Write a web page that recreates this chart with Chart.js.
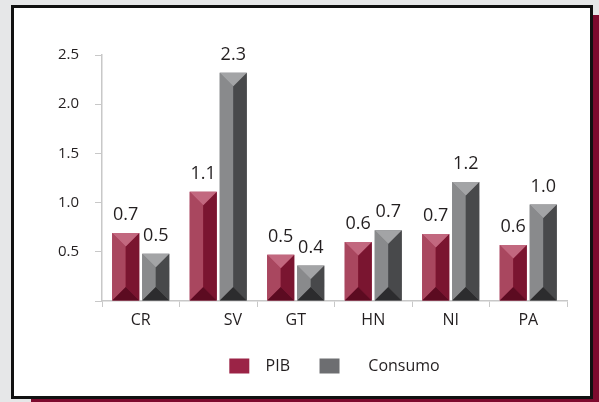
<!DOCTYPE html>
<html>
<head>
<meta charset="utf-8">
<script src="https://cdn.jsdelivr.net/npm/chart.js@4.4.1/dist/chart.umd.min.js"></script>
<style>
  html, body { margin: 0; padding: 0; background: #e6e7e8; width: 599px; height: 402px; overflow: hidden; }
  .frame {
    position: absolute; left: 11px; top: 5px;
    width: 576px; height: 388px;
    border: 3px solid #111;
    background: #fff;
    box-shadow: 20px 10px 0 #7d0a2e;
  }
  canvas { display: block; }
</style>
</head>
<body>
<div class="frame"><canvas id="chart" width="576" height="388"></canvas></div>
<script>
// data
const categories = ['CR', 'SV', 'GT', 'HN', 'NI', 'PA'];
const pib = [0.69, 1.11, 0.47, 0.60, 0.68, 0.57];
const consumo = [0.48, 2.32, 0.36, 0.72, 1.21, 0.98];
const seriesNames = ['PIB', 'Consumo'];

// colours: legend swatch + bevel faces
const legendColors = ['#9b2346', '#6d6e71'];
const bevel = [
  { top: '#c2687f', left: '#a9475f', right: '#7a1530', bottom: '#5c0b21' },
  { top: '#a3a4a6', left: '#898a8c', right: '#48494b', bottom: '#2c2c2e' }
];
// spacing inside legend text, to match the original layout
const legendText = ['  PIB   ', '     Consumo'];

Chart.defaults.font.family = "'Open Sans', sans-serif";
Chart.defaults.color = '#231f20';

function poly(ctx, pts, color) {
  ctx.beginPath();
  ctx.moveTo(pts[0][0], pts[0][1]);
  for (let i = 1; i < pts.length; i++) ctx.lineTo(pts[i][0], pts[i][1]);
  ctx.closePath();
  ctx.fillStyle = color;
  ctx.fill();
}

// draws the bevelled look on top of each bar and the value above it
const bevelBars = {
  id: 'bevelBars',
  afterDatasetsDraw(chart) {
    const ctx = chart.ctx;
    ctx.save();
    chart.data.datasets.forEach((ds, di) => {
      const meta = chart.getDatasetMeta(di);
      const c = bevel[di];
      meta.data.forEach((bar, i) => {
        const p = bar.getProps(['x', 'y', 'base', 'width'], true);
        const L = p.x - p.width / 2, R = p.x + p.width / 2;
        const T = p.y, B = p.base;
        const h = Math.min(p.width / 2, (B - T) / 2);
        poly(ctx, [[L, T], [p.x, T + h], [p.x, B - h], [L, B]], c.left);
        poly(ctx, [[R, T], [p.x, T + h], [p.x, B - h], [R, B]], c.right);
        poly(ctx, [[L, T], [R, T], [p.x, T + h]], c.top);
        poly(ctx, [[L, B], [R, B], [p.x, B - h]], c.bottom);

        ctx.fillStyle = '#231f20';
        ctx.font = "18px 'Open Sans', sans-serif";
        ctx.textAlign = 'center';
        ctx.textBaseline = 'alphabetic';
        ctx.fillText(ds.data[i].toFixed(1), p.x, T - 13);
      });
    });
    ctx.restore();
  }
};

new Chart(document.getElementById('chart'), {
  type: 'bar',
  data: {
    labels: categories,
    datasets: [
      { label: seriesNames[0], data: pib, backgroundColor: legendColors[0], borderWidth: 0 },
      { label: seriesNames[1], data: consumo, backgroundColor: legendColors[1], borderWidth: 0 }
    ]
  },
  options: {
    responsive: false,
    animation: false,
    categoryPercentage: 0.775,
    barPercentage: 0.9,
    layout: { padding: { top: 47, right: 23, bottom: 12, left: 0 } },
    plugins: {
      tooltip: { enabled: false },
      legend: {
        position: 'bottom',
        fullSize: false,
        labels: {
          boxWidth: 20,
          boxHeight: 15,
          padding: 17,
          font: { size: 16 },
          color: '#231f20',
          generateLabels(chart) {
            const items = Chart.defaults.plugins.legend.labels.generateLabels(chart);
            items.forEach((it, i) => { it.text = legendText[i]; it.lineWidth = 0; });
            return items;
          }
        }
      }
    },
    scales: {
      x: {
        afterFit(scale) { scale.height = 40; },
        grid: { display: true, drawOnChartArea: false, tickLength: 6, color: '#c8c8c8' },
        border: { color: '#c8c8c8', width: 1.5 },
        ticks: {
          padding: 4,
          font: { size: 16 },
          color: '#231f20',
          callback(v, i) {
            const lab = categories[i];
            return lab === 'SV' ? '       ' + lab : lab;
          }
        }
      },
      y: {
        min: 0,
        max: 2.5,
        afterFit(scale) { scale.width = 88; },
        grid: { display: true, drawOnChartArea: false, tickLength: 7, color: '#c8c8c8' },
        border: { color: '#c8c8c8', width: 1.5 },
        ticks: {
          stepSize: 0.5,
          padding: 16,
          font: { size: 15 },
          color: '#231f20',
          callback(v) { return v === 0 ? '' : v.toFixed(1); }
        }
      }
    }
  },
  plugins: [bevelBars]
});
</script>
</body>
</html>
